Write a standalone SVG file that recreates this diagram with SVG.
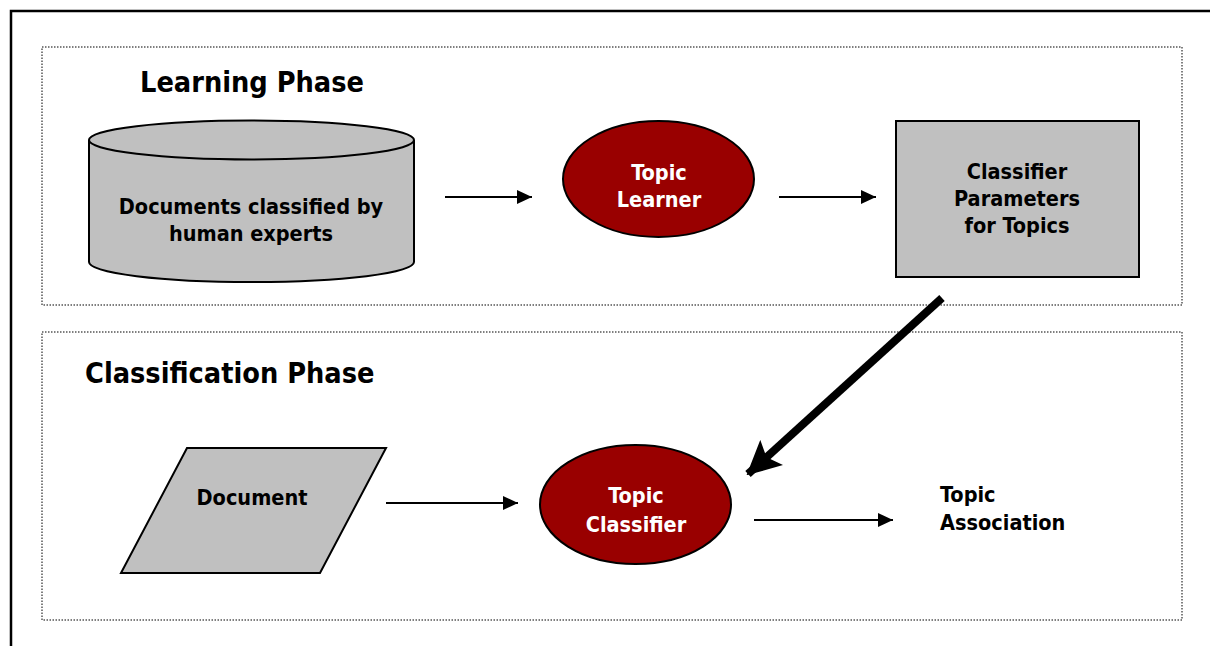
<svg xmlns="http://www.w3.org/2000/svg" width="1210" height="646" viewBox="0 0 1210 646">
<defs>
<style>
.frame{fill:none;stroke:#000;stroke-width:2.5}
.phase{fill:none;stroke:#555;stroke-width:1.5;stroke-dasharray:1.5 1.5}
.title{font-family:"DejaVu Sans Condensed","DejaVu Sans",sans-serif;font-weight:bold;font-size:28.6px;fill:#000}
.lbl{font-family:"DejaVu Sans Condensed","DejaVu Sans",sans-serif;font-weight:bold;font-size:21.5px;fill:#000;text-anchor:middle}
.lblw{font-family:"DejaVu Sans Condensed","DejaVu Sans",sans-serif;font-weight:bold;font-size:21.5px;fill:#fff;text-anchor:middle}
.lbll{font-family:"DejaVu Sans Condensed","DejaVu Sans",sans-serif;font-weight:bold;font-size:21.5px;fill:#000}
.gray{fill:#c0c0c0;stroke:#000;stroke-width:2}
.red{fill:#990000;stroke:#000;stroke-width:2}
.conn{stroke:#000;stroke-width:2;fill:none}
.thick{stroke:#000;stroke-width:8;fill:none}
</style>
<marker id="ah" markerWidth="15" markerHeight="14" refX="15" refY="7" orient="auto" markerUnits="userSpaceOnUse">
<path d="M0,0 L15,7 L0,14 Z" fill="#000"/>
</marker>
<marker id="ahb" markerWidth="34" markerHeight="34" refX="32" refY="17" orient="auto" markerUnits="userSpaceOnUse">
<path d="M0,0 L34,17 L0,34 L7,17 Z" fill="#000"/>
</marker>
</defs>
<rect width="1210" height="646" fill="#fff"/>
<path class="frame" d="M11,660 L11,11 L1220,11"/>
<rect id="learning-phase" class="phase" x="42" y="47" width="1140" height="258"/>
<rect id="classification-phase" class="phase" x="42" y="332" width="1140" height="288"/>
<text class="title" x="140" y="92">Learning Phase</text>
<text class="title" x="85" y="383">Classification Phase</text>

<g id="documents-db">
<path class="gray" d="M89,140 L89,262 A162.5,20 0 0 0 414,262 L414,140"/>
<ellipse class="gray" cx="251.5" cy="140" rx="162.5" ry="19.5"/>
<text class="lbl" x="251" y="214">Documents classified by</text>
<text class="lbl" x="251" y="241">human experts</text>
</g>

<g id="topic-learner">
<ellipse class="red" cx="658.5" cy="179" rx="95.5" ry="58"/>
<text class="lblw" x="659" y="180">Topic</text>
<text class="lblw" x="659" y="207">Learner</text>
</g>

<g id="classifier-params">
<rect class="gray" x="896" y="121" width="243" height="156"/>
<text class="lbl" x="1017" y="179">Classifier</text>
<text class="lbl" x="1017" y="206">Parameters</text>
<text class="lbl" x="1017" y="233">for Topics</text>
</g>

<g id="document">
<polygon class="gray" points="187,448 386,448 320,573 121,573"/>
<text class="lbl" x="252" y="505">Document</text>
</g>

<g id="topic-classifier">
<ellipse class="red" cx="635.5" cy="504.5" rx="95.5" ry="59.5"/>
<text class="lblw" x="636" y="503">Topic</text>
<text class="lblw" x="636" y="532">Classifier</text>
</g>

<g id="topic-association">
<text class="lbll" x="940" y="502">Topic</text>
<text class="lbll" x="940" y="530">Association</text>
</g>

<g id="connectors">
<line class="conn" x1="445" y1="197" x2="532" y2="197" marker-end="url(#ah)"/>
<line class="conn" x1="779" y1="197" x2="876" y2="197" marker-end="url(#ah)"/>
<line class="conn" x1="386" y1="503" x2="518" y2="503" marker-end="url(#ah)"/>
<line class="conn" x1="754" y1="520" x2="893" y2="520" marker-end="url(#ah)"/>
<line class="thick" x1="942" y1="298" x2="748" y2="474" marker-end="url(#ahb)"/>
</g>
</svg>
